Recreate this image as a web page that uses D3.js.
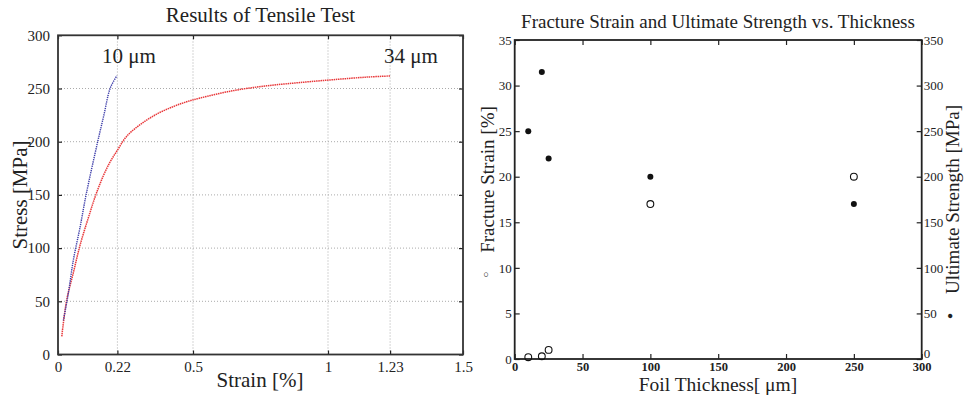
<!DOCTYPE html>
<html>
<head>
<meta charset="utf-8">
<script src="https://cdn.jsdelivr.net/npm/d3@7/dist/d3.min.js"></script>
<style>
  html, body { margin: 0; padding: 0; background: #fff; }
  svg { display: block; }
  text { font-family: "Liberation Serif", "Times New Roman", serif; fill: #222; }
</style>
</head>
<body>
<svg id="chart" width="964" height="397"></svg>
<script>
// ---------- data: left chart (stress-strain) ----------
const strain10 = [0.020, 0.038, 0.057, 0.082, 0.104, 0.147, 0.170, 0.193, 0.218];
const stress10 = [32, 57, 89, 120, 150, 200, 225, 250, 262];
const strain34 = [0.014, 0.032, 0.057, 0.082, 0.118, 0.140, 0.168, 0.193, 0.220, 0.254, 0.304, 0.366, 0.427, 0.476, 0.526, 0.649, 0.773, 0.896, 1.02, 1.143, 1.232];
const stress34 = [17, 51, 77, 103, 133, 150, 168, 181, 192, 205, 216, 226, 233, 237.5, 241, 248, 252.5, 255.6, 258.3, 260.7, 261.8];
const strainTicks = [0, 0.22, 0.5, 1, 1.23, 1.5];
const stressTicks = [0, 50, 100, 150, 200, 250, 300];
const curveLabels = ["10 \u03bcm", "34 \u03bcm"];

// ---------- data: right chart (vs thickness) ----------
const thickness = [10, 20, 25, 100, 250];
const fractureStrain = [0.2, 0.3, 1.0, 17, 20];
const ultimateStrength = [250, 315, 220, 200, 170];
const thickTicks = [0, 50, 100, 150, 200, 250, 300];
const strainPctTicks = [0, 5, 10, 15, 20, 25, 30, 35];
const mpaTicks = [0, 50, 100, 150, 200, 250, 300, 350];

const svg = d3.select("#chart");
const FONT = "'Liberation Serif','Times New Roman',serif";

// ================= LEFT CHART =================
const L = {x0: 58, x1: 463, y0: 354.5, y1: 35.3};
const xL = d3.scaleLinear().domain([0, 1.5]).range([L.x0, L.x1]);
const yL = d3.scaleLinear().domain([0, 300]).range([L.y0, L.y1]);
const gL = svg.append("g");

// grid
gL.append("g").selectAll("line").data(strainTicks.slice(1, -1)).join("line")
  .attr("x1", d => xL(d)).attr("x2", d => xL(d)).attr("y1", L.y0).attr("y2", L.y1)
  .attr("stroke", "#aaa").attr("stroke-width", 1).attr("stroke-dasharray", "1,2");
gL.append("g").selectAll("line").data(stressTicks.slice(1, -1)).join("line")
  .attr("y1", d => yL(d)).attr("y2", d => yL(d)).attr("x1", L.x0).attr("x2", L.x1)
  .attr("stroke", "#aaa").attr("stroke-width", 1).attr("stroke-dasharray", "1,2");

// axes (ticks inside)
const axBL = gL.append("g").attr("transform", `translate(0,${L.y0})`)
  .call(d3.axisBottom(xL).tickValues(strainTicks).tickSize(-4).tickPadding(7).tickFormat(d => String(d)));
const axTL = gL.append("g").attr("transform", `translate(0,${L.y1})`)
  .call(d3.axisTop(xL).tickValues(strainTicks).tickSize(-4).tickFormat(""));
const axLL = gL.append("g").attr("transform", `translate(${L.x0},0)`)
  .call(d3.axisLeft(yL).tickValues(stressTicks).tickSize(-4).tickPadding(8));
const axRL = gL.append("g").attr("transform", `translate(${L.x1},0)`)
  .call(d3.axisRight(yL).tickValues(stressTicks).tickSize(-4).tickFormat(""));
[axBL, axTL, axLL, axRL].forEach(a => {
  a.select(".domain").remove();
  a.selectAll("line").attr("stroke", "#222").attr("stroke-width", 1.2);
  a.selectAll("text").style("font-family", FONT).style("font-size", "15px").attr("fill", "#333");
});
axBL.selectAll("text").attr("dy", "0.71em");
gL.append("rect").attr("x", L.x0).attr("y", L.y1).attr("width", L.x1 - L.x0).attr("height", L.y0 - L.y1)
  .attr("fill", "none").attr("stroke", "#333").attr("stroke-width", 1.8);

// curves
const lineL = d3.line().x(d => xL(d[0])).y(d => yL(d[1])).curve(d3.curveCatmullRom);
gL.append("path").datum(strain34.map((s, i) => [s, stress34[i]]))
  .attr("d", lineL).attr("fill", "none").attr("stroke", "#e8383a").attr("stroke-width", 1.5).attr("stroke-dasharray", "1.5,0.7");
gL.append("path").datum(strain10.map((s, i) => [s, stress10[i]]))
  .attr("d", lineL).attr("fill", "none").attr("stroke", "#3a3aa8").attr("stroke-width", 1.4).attr("stroke-dasharray", "1.3,0.9");

// labels
gL.append("text").attr("x", 129).attr("y", 63).attr("text-anchor", "middle").style("font-size", "21px").text(curveLabels[0]);
gL.append("text").attr("x", 411).attr("y", 63).attr("text-anchor", "middle").style("font-size", "21px").text(curveLabels[1]);
gL.append("text").attr("x", 260.5).attr("y", 22).attr("text-anchor", "middle").style("font-size", "21px").text("Results of Tensile Test");
gL.append("text").attr("x", 260).attr("y", 387).attr("text-anchor", "middle").style("font-size", "21px").text("Strain [%]");
gL.append("text").attr("transform", "translate(27,195) rotate(-90)").attr("text-anchor", "middle").style("font-size", "21px").text("Stress [MPa]");

// ================= RIGHT CHART =================
const R = {x0: 514.7, x1: 921.7, y0: 359, y1: 40};
const xR = d3.scaleLinear().domain([0, 300]).range([R.x0, R.x1]);
const yR = d3.scaleLinear().domain([0, 35]).range([R.y0, R.y1]);
const yR2 = d3.scaleLinear().domain([0, 350]).range([R.y0, R.y1]);
const gR = svg.append("g");

const axBR = gR.append("g").attr("transform", `translate(0,${R.y0})`)
  .call(d3.axisBottom(xR).tickValues(thickTicks).tickSize(-5).tickPadding(3));
const axTR = gR.append("g").attr("transform", `translate(0,${R.y1})`)
  .call(d3.axisTop(xR).tickValues(thickTicks).tickSize(-5).tickFormat(""));
const axLR = gR.append("g").attr("transform", `translate(${R.x0},0)`)
  .call(d3.axisLeft(yR).tickValues(strainPctTicks).tickSize(-5).tickPadding(3));
const axRR = gR.append("g").attr("transform", `translate(${R.x1},0)`)
  .call(d3.axisRight(yR2).tickValues(mpaTicks).tickSize(-5).tickPadding(2));
[axBR, axTR, axLR, axRR].forEach(a => {
  a.select(".domain").remove();
  a.selectAll("line").attr("stroke", "#222").attr("stroke-width", 1.2);
  a.selectAll("text").style("font-family", FONT).style("font-size", "13px").attr("fill", "#333");
});
axBR.selectAll("text").attr("dy", "0.71em").style("font-size", "12.5px").style("font-weight", "bold").attr("fill", "#444");
axRR.selectAll("text").filter(d => d === 0).attr("dy", "-0.1em");
gR.append("rect").attr("x", R.x0).attr("y", R.y1).attr("width", R.x1 - R.x0).attr("height", R.y0 - R.y1)
  .attr("fill", "none").attr("stroke", "#222").attr("stroke-width", 1.8);

// markers
gR.append("g").selectAll("circle").data(thickness.map((t, i) => [t, fractureStrain[i]])).join("circle")
  .attr("cx", d => xR(d[0])).attr("cy", d => yR(d[1])).attr("r", 3.4)
  .attr("fill", "none").attr("stroke", "#111").attr("stroke-width", 1.1);
gR.append("g").selectAll("circle").data(thickness.map((t, i) => [t, ultimateStrength[i]])).join("circle")
  .attr("cx", d => xR(d[0])).attr("cy", d => yR2(d[1])).attr("r", 3)
  .attr("fill", "#111");

// labels
gR.append("text").attr("x", 718).attr("y", 28).attr("text-anchor", "middle").style("font-size", "19px")
  .text("Fracture Strain and Ultimate Strength vs. Thickness");
gR.append("text").attr("x", 718).attr("y", 390.5).attr("text-anchor", "middle").style("font-size", "19.5px")
  .text("Foil Thickness[ \u03bcm]");
const lblL = gR.append("text").attr("transform", "translate(494,192) rotate(-90)").attr("text-anchor", "middle").style("font-size", "19px");
lblL.append("tspan").style("font-size", "10px").attr("dy", "-5").text("\u25cb");
lblL.append("tspan").attr("dy", "5").text("\u2003Fracture Strain [%]");
const lblR = gR.append("text").attr("transform", "translate(959,212) rotate(-90)").attr("text-anchor", "middle").style("font-size", "19px");
lblR.append("tspan").style("font-size", "10px").attr("dy", "-6").text("\u25cf");
lblR.append("tspan").attr("dy", "6").text("\u2003Ultimate Strength [MPa]");
</script>
</body>
</html>
